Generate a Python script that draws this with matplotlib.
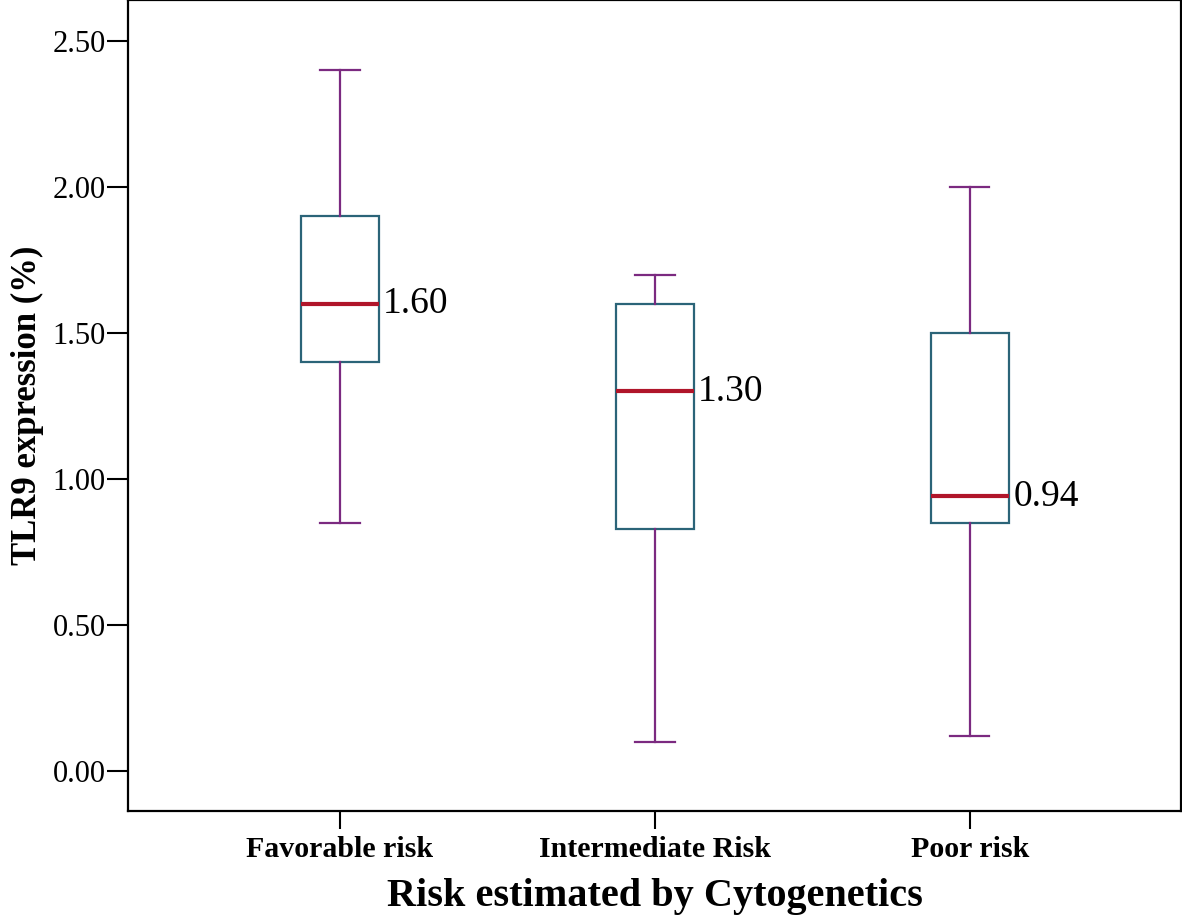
import matplotlib
matplotlib.use("Agg")
import matplotlib.pyplot as plt

categories = ["Favorable risk", "Intermediate Risk", "Poor risk"]
whisker_low = [0.85, 0.10, 0.12]
q1 = [1.40, 0.83, 0.85]
medians = [1.60, 1.30, 0.94]
q3 = [1.90, 1.60, 1.50]
whisker_high = [2.40, 1.70, 2.00]
median_labels = ["1.60", "1.30", "0.94"]
yticks = [0.0, 0.5, 1.0, 1.5, 2.0, 2.5]

plt.rcParams["font.family"] = ["Liberation Serif", "DejaVu Serif"]

WHISK = "#7b2a80"
BOX = "#2b6478"
MED = "#b0152a"

fig = plt.figure(figsize=(11.82, 9.17), dpi=100)
ax = fig.add_axes([128 / 1182, 1 - 811 / 917, (1181 - 128) / 1182, 811 / 917])

positions = [1, 2, 3]
stats = []
for i, name in enumerate(categories):
    stats.append({"label": name, "whislo": whisker_low[i], "q1": q1[i],
                  "med": medians[i], "q3": q3[i], "whishi": whisker_high[i],
                  "fliers": []})

ax.bxp(stats, positions=positions, widths=0.248, showfliers=False, patch_artist=True,
       boxprops=dict(facecolor="white", edgecolor=BOX, linewidth=1.6),
       whiskerprops=dict(color=WHISK, linewidth=1.6),
       capprops=dict(color=WHISK, linewidth=1.6),
       capwidths=0.124,
       medianprops=dict(color=MED, linewidth=3.0, solid_capstyle="butt"))

for p, m, lab in zip(positions, medians, median_labels):
    ax.annotate(lab, xy=(p + 0.124, m), xytext=(3, 0), textcoords="offset points",
                ha="left", va="center", fontsize=27)

ax.set_xlim(0.327, 3.67)
ax.set_ylim(-0.137, 2.64)
ax.set_yticks(yticks)
ax.set_yticklabels([f"{t:.2f}" for t in yticks], fontsize=22)
ax.set_xticks(positions)
ax.set_xticklabels(categories, fontsize=21.5, fontweight="bold")
ax.tick_params(axis="y", length=15, width=1.5, pad=1)
ax.tick_params(axis="x", length=13, width=1.5, pad=5)
for s in ax.spines.values():
    s.set_linewidth(1.6)

ax.set_ylabel("TLR9 expression (%)", fontsize=25, fontweight="bold", labelpad=6)
ax.set_xlabel("Risk estimated by Cytogenetics", fontsize=29, fontweight="bold", labelpad=11)

fig.savefig("out.png", dpi=100)
